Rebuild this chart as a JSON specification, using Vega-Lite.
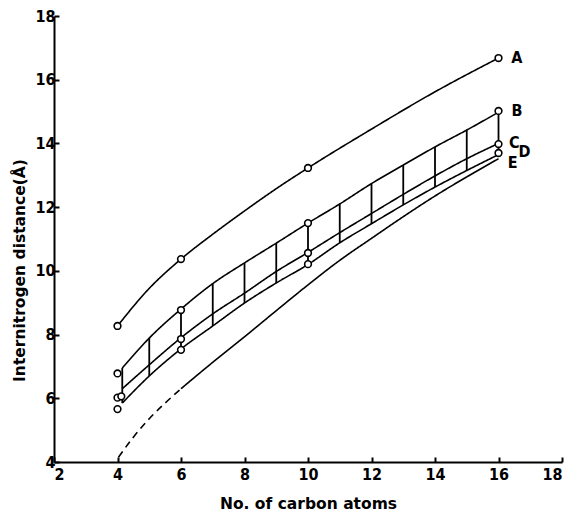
{
  "$schema": "https://vega.github.io/schema/vega-lite/v6.json",
  "width": 508,
  "height": 446,
  "autosize": {"type": "none"},
  "padding": {"left": 54, "top": 16, "right": 8, "bottom": 56},
  "background": "white",
  "config": {
    "view": {"stroke": null},
    "font": "DejaVu Sans Condensed",
    "axis": {
      "grid": false,
      "domainColor": "black",
      "domainWidth": 2,
      "tickColor": "black",
      "tickWidth": 2,
      "tickSize": -5,
      "labelColor": "black",
      "labelFont": "DejaVu Sans Condensed",
      "labelFontSize": 16,
      "labelFontWeight": "bold",
      "titleColor": "black",
      "titleFont": "DejaVu Sans",
      "titleFontSize": 15.5,
      "titleFontWeight": "bold"
    }
  },
  "datasets": {
    "curves": [
      {"series": "A", "part": "measured", "x": 4, "y": 8.27},
      {"series": "A", "part": "measured", "x": 5, "y": 9.45},
      {"series": "A", "part": "measured", "x": 6, "y": 10.37},
      {"series": "A", "part": "measured", "x": 7, "y": 11.15},
      {"series": "A", "part": "measured", "x": 8, "y": 11.88},
      {"series": "A", "part": "measured", "x": 9, "y": 12.58},
      {"series": "A", "part": "measured", "x": 10, "y": 13.23},
      {"series": "A", "part": "measured", "x": 12, "y": 14.45},
      {"series": "A", "part": "measured", "x": 14, "y": 15.62},
      {"series": "A", "part": "measured", "x": 16, "y": 16.68},
      {"series": "B", "part": "measured", "x": 4.15, "y": 6.95},
      {"series": "B", "part": "measured", "x": 5, "y": 7.89},
      {"series": "B", "part": "measured", "x": 6, "y": 8.8},
      {"series": "B", "part": "measured", "x": 7, "y": 9.6},
      {"series": "B", "part": "measured", "x": 8, "y": 10.25},
      {"series": "B", "part": "measured", "x": 9, "y": 10.87},
      {"series": "B", "part": "measured", "x": 10, "y": 11.5},
      {"series": "B", "part": "measured", "x": 11, "y": 12.1},
      {"series": "B", "part": "measured", "x": 12, "y": 12.74},
      {"series": "B", "part": "measured", "x": 13, "y": 13.32},
      {"series": "B", "part": "measured", "x": 14, "y": 13.89},
      {"series": "B", "part": "measured", "x": 15, "y": 14.42},
      {"series": "B", "part": "measured", "x": 16, "y": 14.98},
      {"series": "C", "part": "measured", "x": 4.15, "y": 6.3},
      {"series": "C", "part": "measured", "x": 5, "y": 7.05},
      {"series": "C", "part": "measured", "x": 6, "y": 7.9},
      {"series": "C", "part": "measured", "x": 7, "y": 8.65},
      {"series": "C", "part": "measured", "x": 8, "y": 9.3},
      {"series": "C", "part": "measured", "x": 9, "y": 9.98},
      {"series": "C", "part": "measured", "x": 10, "y": 10.58},
      {"series": "C", "part": "measured", "x": 11, "y": 11.2},
      {"series": "C", "part": "measured", "x": 12, "y": 11.8},
      {"series": "C", "part": "measured", "x": 13, "y": 12.4},
      {"series": "C", "part": "measured", "x": 14, "y": 12.98},
      {"series": "C", "part": "measured", "x": 15, "y": 13.52},
      {"series": "C", "part": "measured", "x": 16, "y": 14.0},
      {"series": "D", "part": "measured", "x": 4.15, "y": 5.85},
      {"series": "D", "part": "measured", "x": 5, "y": 6.7},
      {"series": "D", "part": "measured", "x": 6, "y": 7.55},
      {"series": "D", "part": "measured", "x": 7, "y": 8.27},
      {"series": "D", "part": "measured", "x": 8, "y": 8.99},
      {"series": "D", "part": "measured", "x": 9, "y": 9.62},
      {"series": "D", "part": "measured", "x": 10, "y": 10.2},
      {"series": "D", "part": "measured", "x": 11, "y": 10.88},
      {"series": "D", "part": "measured", "x": 12, "y": 11.48},
      {"series": "D", "part": "measured", "x": 13, "y": 12.07},
      {"series": "D", "part": "measured", "x": 14, "y": 12.63},
      {"series": "D", "part": "measured", "x": 15, "y": 13.15},
      {"series": "D", "part": "measured", "x": 16, "y": 13.65},
      {"series": "E", "part": "extrapolated", "x": 4.03, "y": 4.15},
      {"series": "E", "part": "extrapolated", "x": 4.5, "y": 4.78},
      {"series": "E", "part": "extrapolated", "x": 5, "y": 5.36},
      {"series": "E", "part": "extrapolated", "x": 5.5, "y": 5.85},
      {"series": "E", "part": "extrapolated", "x": 6, "y": 6.3},
      {"series": "E", "part": "measured", "x": 6, "y": 6.3},
      {"series": "E", "part": "measured", "x": 7, "y": 7.13},
      {"series": "E", "part": "measured", "x": 8, "y": 7.93},
      {"series": "E", "part": "measured", "x": 9, "y": 8.75},
      {"series": "E", "part": "measured", "x": 10, "y": 9.56},
      {"series": "E", "part": "measured", "x": 11, "y": 10.33},
      {"series": "E", "part": "measured", "x": 12, "y": 11.02},
      {"series": "E", "part": "measured", "x": 13, "y": 11.7},
      {"series": "E", "part": "measured", "x": 14, "y": 12.35},
      {"series": "E", "part": "measured", "x": 15, "y": 12.95},
      {"series": "E", "part": "measured", "x": 16, "y": 13.52}
    ],
    "points": [
      {"series": "A", "x": 4, "y": 8.27},
      {"series": "A", "x": 6, "y": 10.37},
      {"series": "A", "x": 10, "y": 13.23},
      {"series": "A", "x": 16, "y": 16.68},
      {"series": "B", "x": 4, "y": 6.78},
      {"series": "B", "x": 6, "y": 8.77},
      {"series": "B", "x": 10, "y": 11.5},
      {"series": "B", "x": 16, "y": 15.02},
      {"series": "C", "x": 4, "y": 6.02},
      {"series": "C", "x": 4.12, "y": 6.06},
      {"series": "C", "x": 6, "y": 7.86},
      {"series": "C", "x": 10, "y": 10.56},
      {"series": "C", "x": 16, "y": 13.98},
      {"series": "D", "x": 4, "y": 5.66},
      {"series": "D", "x": 6, "y": 7.52},
      {"series": "D", "x": 10, "y": 10.21},
      {"series": "D", "x": 16, "y": 13.7}
    ],
    "labels": [
      {"label": "A", "x": 16.58, "y": 16.68},
      {"label": "B", "x": 16.58, "y": 15.02},
      {"label": "C", "x": 16.5, "y": 14.02},
      {"label": "D", "x": 16.82, "y": 13.72},
      {"label": "E", "x": 16.45, "y": 13.38}
    ]
  },
  "layer": [
    {
      "data": {"name": "curves"},
      "transform": [
        {"filter": "datum.series === 'B' || datum.series === 'D'"},
        {"pivot": "series", "value": "y", "groupby": ["x"]}
      ],
      "mark": {"type": "rule", "color": "black", "strokeWidth": 1.8},
      "encoding": {
        "x": {"field": "x", "type": "quantitative"},
        "y": {"field": "B", "type": "quantitative"},
        "y2": {"field": "D"}
      }
    },
    {
      "data": {"name": "curves"},
      "mark": {"type": "line", "interpolate": "monotone", "color": "black", "strokeWidth": 1.6},
      "encoding": {
        "x": {
          "field": "x",
          "type": "quantitative",
          "scale": {"domain": [2, 18], "nice": false, "zero": false},
          "axis": {"values": [2, 4, 6, 8, 10, 12, 14, 16, 18], "title": "No. of carbon atoms", "labelPadding": 9, "titlePadding": 14}
        },
        "y": {
          "field": "y",
          "type": "quantitative",
          "scale": {"domain": [4, 18], "nice": false, "zero": false},
          "axis": {"values": [4, 6, 8, 10, 12, 14, 16, 18], "title": "Internitrogen distance(Å)", "labelPadding": 4, "titlePadding": 7, "titleY": 254}
        },
        "detail": {"field": "series"},
        "strokeDash": {
          "field": "part",
          "type": "nominal",
          "scale": {"domain": ["measured", "extrapolated"], "range": [[1, 0], [7, 5]]},
          "legend": null
        }
      }
    },
    {
      "data": {"name": "points"},
      "mark": {"type": "point", "shape": "circle", "filled": true, "fill": "white", "stroke": "black", "strokeWidth": 1.6, "size": 45, "opacity": 1},
      "encoding": {
        "x": {"field": "x", "type": "quantitative"},
        "y": {"field": "y", "type": "quantitative"}
      }
    },
    {
      "data": {"name": "labels"},
      "mark": {"type": "text", "font": "DejaVu Sans Condensed", "fontSize": 16, "fontWeight": "bold", "color": "black"},
      "encoding": {
        "x": {"field": "x", "type": "quantitative"},
        "y": {"field": "y", "type": "quantitative"},
        "text": {"field": "label"}
      }
    }
  ]
}
